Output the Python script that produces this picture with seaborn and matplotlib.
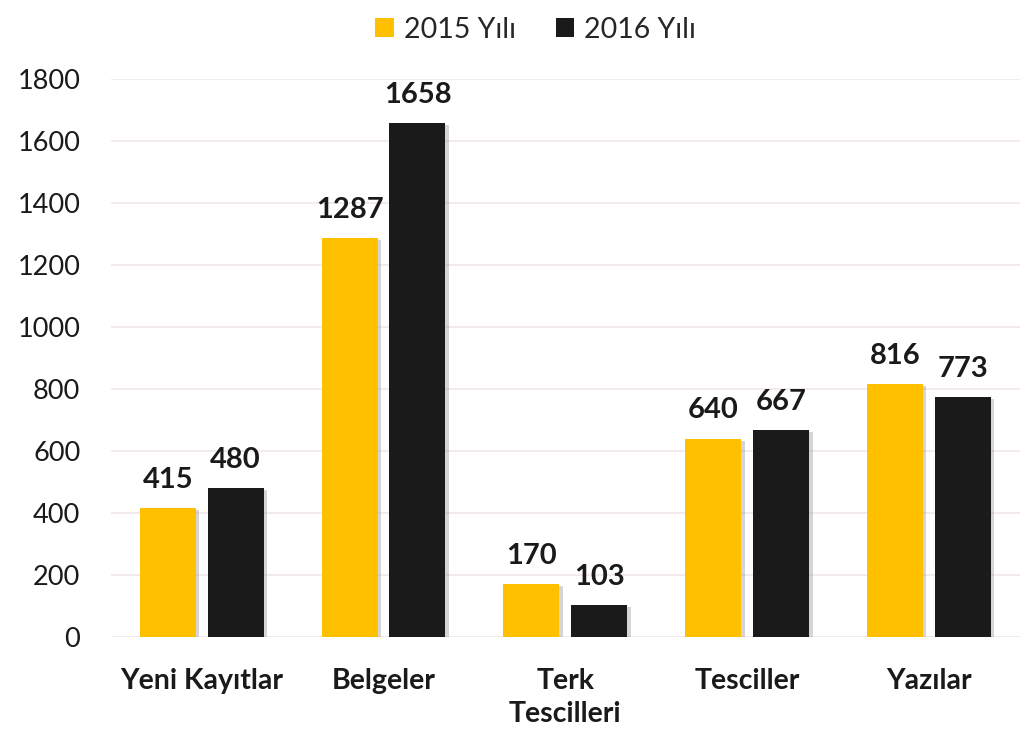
import matplotlib
matplotlib.use("Agg")
import matplotlib.pyplot as plt
import matplotlib.patheffects as pe
from matplotlib.patches import Patch
import seaborn as sns
import pandas as pd

categories = ["Yeni Kayıtlar", "Belgeler", "Terk\nTescilleri", "Tesciller", "Yazılar"]
series_names = ["2015 Yılı", "2016 Yılı"]
values_2015 = [415, 1287, 170, 640, 816]
values_2016 = [480, 1658, 103, 667, 773]
y_ticks = [0, 200, 400, 600, 800, 1000, 1200, 1400, 1600, 1800]
colors = ["#FFC000", "#1B1A1A"]

df = pd.DataFrame({
    "category": categories * 2,
    "year": [series_names[0]] * len(categories) + [series_names[1]] * len(categories),
    "value": values_2015 + values_2016,
})

sns.set_theme(style="white")
plt.rcParams["font.family"] = ["Lato", "DejaVu Sans"]

fig = plt.figure(figsize=(10.26, 7.35), dpi=100)
ax = fig.add_axes([0.108, 0.1333, 0.886, 0.7592])

sns.barplot(data=df, x="category", y="value", hue="year", order=categories,
            hue_order=series_names, palette=colors, width=0.747, gap=0.176,
            ax=ax, legend=False, saturation=1, edgecolor="none")

for p in ax.patches:
    p.set_path_effects([pe.SimplePatchShadow(offset=(2.5, -1.5), shadow_rgbFace="#888888", alpha=0.35),
                        pe.Normal()])

for container in ax.containers:
    ax.bar_label(container, fmt="%d", padding=11, fontsize=21, fontweight="bold", color="#1B1A1A")

ax.set_ylim(0, 1800)
ax.set_yticks(y_ticks)
ax.set_yticklabels([str(t) for t in y_ticks], fontsize=19.5, color="#1B1A1A")
ax.set_xlim(-0.5, len(categories) - 0.5)
ax.tick_params(axis="x", labelsize=20.5, pad=22, length=0)
ax.tick_params(axis="y", pad=22, length=0)
for lbl in ax.get_xticklabels():
    lbl.set_fontweight("bold")
    lbl.set_color("#1B1A1A")
    lbl.set_verticalalignment("top")
    lbl.set_linespacing(1.35)
ax.set_xlabel("")
ax.set_ylabel("")
ax.yaxis.grid(True, color="#F0E6EA", linewidth=1.2)
ax.set_axisbelow(True)
for s in ax.spines.values():
    s.set_visible(False)

handles = [Patch(facecolor=c, edgecolor="none") for c in colors]
fig.legend(handles, series_names, loc="upper center", bbox_to_anchor=(0.522, 1.012), ncol=2,
           frameon=False, fontsize=20.5, handlelength=0.65, handleheight=0.65,
           handletextpad=0.35, columnspacing=1.4)

fig.savefig("out.png", dpi=100, facecolor="white")
